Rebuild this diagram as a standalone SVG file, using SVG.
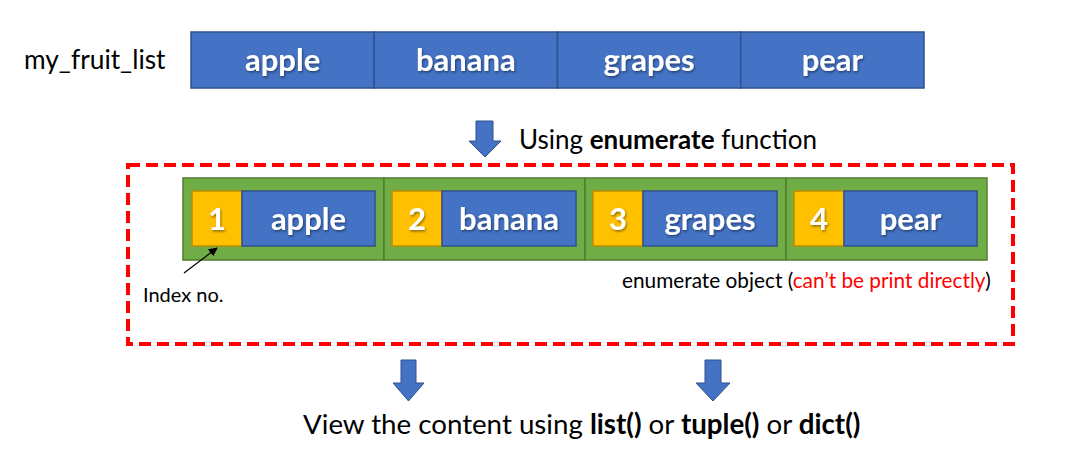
<svg xmlns="http://www.w3.org/2000/svg" width="1081" height="476" viewBox="0 0 1081 476">
<defs>
<style>
.blue{fill:#4472C4;stroke:#2F528F;stroke-width:1.5}
.green{fill:#70AD47;stroke:#507E32;stroke-width:1.5}
.yellow{fill:#FFC000;stroke:#BC8C00;stroke-width:1.5}
.lbl{font-family:Lato,"Liberation Sans",sans-serif;font-weight:bold;fill:#fff;font-size:31px;text-anchor:middle;filter:url(#sh)}
.txt{font-family:Lato,"Liberation Sans",sans-serif;fill:#000}
.barrow{fill:#4472C4;stroke:#2F528F;stroke-width:1}
</style>
<filter id="sh" x="-20%" y="-20%" width="140%" height="160%">
<feDropShadow dx="1" dy="1.5" stdDeviation="1" flood-color="#000" flood-opacity="0.45"/>
</filter>
<marker id="ah" viewBox="0 0 10 10" refX="9" refY="5" markerWidth="9" markerHeight="9" orient="auto" markerUnits="userSpaceOnUse">
<path d="M0,0 L10,5 L0,10 z" fill="#000"/>
</marker>
</defs>
<rect width="1081" height="476" fill="#fff"/>

<g id="list-label">
<text class="txt" x="24" y="69" font-size="26.3">my_fruit_list</text>
</g>
<g id="fruit-list">
<rect class="blue" x="191" y="32" width="183.25" height="56"/>
<rect class="blue" x="374.25" y="32" width="183.25" height="56"/>
<rect class="blue" x="557.5" y="32" width="183.25" height="56"/>
<rect class="blue" x="740.75" y="32" width="183.25" height="56"/>
<text class="lbl" x="282.6" y="71">apple</text>
<text class="lbl" x="465.9" y="71">banana</text>
<text class="lbl" x="649.1" y="71">grapes</text>
<text class="lbl" x="832.4" y="71">pear</text>
</g>

<g id="enumerate-label">
<text class="txt" x="519" y="149" font-size="26">Using <tspan font-weight="bold">enumerate</tspan> function</text>
</g>

<g id="enumerate-box">
<rect x="128" y="165" width="885" height="179" fill="none" stroke="#FF0000" stroke-width="4" stroke-dasharray="12 6"/>
</g>

<g id="enumerate-object">
<rect class="green" x="183" y="178" width="201" height="82"/>
<rect class="green" x="384" y="178" width="201" height="82"/>
<rect class="green" x="585" y="178" width="201" height="82"/>
<rect class="green" x="786" y="178" width="201" height="82"/>
<g id="item1">
<rect class="yellow" x="192" y="191" width="50" height="55"/>
<rect class="blue" x="242" y="191" width="133" height="55"/>
<text class="lbl" x="217" y="230">1</text>
<text class="lbl" x="308.5" y="230">apple</text>
</g>
<g id="item2">
<rect class="yellow" x="392" y="191" width="50" height="55"/>
<rect class="blue" x="442" y="191" width="134" height="55"/>
<text class="lbl" x="417" y="230">2</text>
<text class="lbl" x="509" y="230">banana</text>
</g>
<g id="item3">
<rect class="yellow" x="593" y="191" width="50" height="55"/>
<rect class="blue" x="643" y="191" width="134" height="55"/>
<text class="lbl" x="618" y="230">3</text>
<text class="lbl" x="710" y="230">grapes</text>
</g>
<g id="item4">
<rect class="yellow" x="794" y="191" width="50" height="55"/>
<rect class="blue" x="844" y="191" width="133" height="55"/>
<text class="lbl" x="819" y="230">4</text>
<text class="lbl" x="910.5" y="230">pear</text>
</g>
</g>

<g id="index-label">
<text class="txt" x="143" y="302" font-size="20">Index no.</text>
</g>
<g id="object-label">
<text class="txt" x="622" y="288" font-size="20.8">enumerate object (<tspan fill="#FF0000">can’t be print directly</tspan>)</text>
</g>

<g id="bottom-label">
<text class="txt" x="303" y="434" font-size="27.7">View the content using <tspan font-weight="bold">list()</tspan> or <tspan font-weight="bold">tuple()</tspan> or <tspan font-weight="bold">dict()</tspan></text>
</g>

<g id="connectors">
<path class="barrow" d="M476,121 H493 V141 H501 L485,157 L469,141 H476 Z"/>
<path class="barrow" d="M401,360 H416 V383 H424 L408.5,401 L393,383 H401 Z"/>
<path class="barrow" d="M705,360 H721 V383 H730 L713,401 L696,383 H705 Z"/>
<line x1="184" y1="273" x2="217" y2="248" stroke="#000" stroke-width="1.2" marker-end="url(#ah)"/>
</g>
</svg>
